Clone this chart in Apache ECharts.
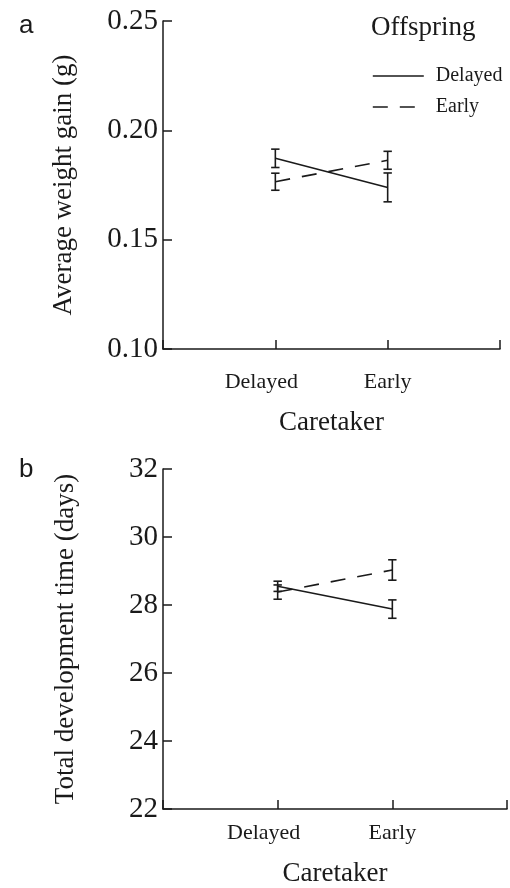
<!DOCTYPE html>
<html>
<head>
<meta charset="utf-8">
<script src="https://cdn.jsdelivr.net/npm/echarts@6/dist/echarts.min.js"></script>
<style>
html,body{margin:0;padding:0;background:#fff;}
#chart{width:510px;height:888px;}
</style>
</head>
<body>
<div id="chart"></div>
<script>
// ---- data ----
var caretakers = ['Delayed', 'Early'];
var caretakerPos = [1, 2];
var offspringNames = ['Delayed', 'Early'];

var weightDelayedMean = [0.1872, 0.1739];
var weightDelayedErr  = [0.0042, 0.0066];
var weightEarlyMean   = [0.1765, 0.1863];
var weightEarlyErr    = [0.0039, 0.0041];

var devDelayedMean = [28.55, 27.88];
var devDelayedErr  = [0.15, 0.27];
var devEarlyMean   = [28.38, 29.03];
var devEarlyErr    = [0.21, 0.30];

var weightTicks = [0.10, 0.15, 0.20, 0.25];
var devTicks = [22, 24, 26, 28, 30, 32];

var INK = '#1a1a1a';
var SERIF = '"Liberation Serif", "Times New Roman", serif';

function pts(means) { return means.map(function (m, i) { return [caretakerPos[i], m]; }); }
function errs(means, e) { return means.map(function (m, i) { return [caretakerPos[i], m - e[i], m + e[i]]; }); }

function errRender(params, api) {
  var x = api.value(0);
  var lo = api.coord([x, api.value(1)]);
  var hi = api.coord([x, api.value(2)]);
  var w = 4.2;
  var st = { stroke: INK, lineWidth: 1.6 };
  return {
    type: 'group',
    children: [
      { type: 'line', shape: { x1: lo[0], y1: lo[1], x2: hi[0], y2: hi[1] }, style: st },
      { type: 'line', shape: { x1: lo[0] - w, y1: lo[1], x2: lo[0] + w, y2: lo[1] }, style: st },
      { type: 'line', shape: { x1: hi[0] - w, y1: hi[1], x2: hi[0] + w, y2: hi[1] }, style: st }
    ]
  };
}

function xAxisFor(gi, labelMargin, nameGap) {
  return {
    type: 'value', gridIndex: gi, min: 0, max: 3, interval: 1,
    name: 'Caretaker', nameLocation: 'middle', nameGap: nameGap,
    nameTextStyle: { fontFamily: SERIF, fontSize: 27, color: INK },
    axisLine: { show: true, onZero: false, lineStyle: { color: INK, width: 1.5 } },
    axisTick: { show: true, inside: true, length: 9, lineStyle: { color: INK, width: 1.5 } },
    splitLine: { show: false },
    axisLabel: {
      margin: labelMargin, fontFamily: SERIF, fontSize: 22, color: INK,
      formatter: function (v) {
        var i = caretakerPos.indexOf(v);
        if (i < 0) return '';
        return i === 0 ? '{l|' + caretakers[i] + '}' : caretakers[i];
      },
      rich: { l: { fontFamily: SERIF, fontSize: 22, color: INK, padding: [0, 28, 0, 0] } }
    }
  };
}

function yAxisFor(gi, ticks, title, digits, nameGap) {
  return {
    type: 'value', gridIndex: gi,
    min: ticks[0], max: ticks[ticks.length - 1], interval: ticks[1] - ticks[0],
    name: title, nameLocation: 'middle', nameRotate: 90, nameGap: nameGap,
    nameTextStyle: { fontFamily: SERIF, fontSize: 27, color: INK },
    axisLine: { show: true, lineStyle: { color: INK, width: 1.5 } },
    axisTick: { show: true, inside: true, length: 9, lineStyle: { color: INK, width: 1.5 } },
    splitLine: { show: false },
    axisLabel: {
      margin: 5, fontFamily: SERIF, fontSize: 29, color: INK,
      formatter: function (v) { return v.toFixed(digits); }
    }
  };
}

function lineSeries(name, gi, data, dashed) {
  return {
    type: 'line', name: name, xAxisIndex: gi, yAxisIndex: gi,
    data: data, symbol: 'none', silent: true, animation: false,
    lineStyle: { color: INK, width: 1.6, type: dashed ? [15, 12] : 'solid' },
    itemStyle: { color: INK }
  };
}

function errSeries(gi, data) {
  return {
    type: 'custom', xAxisIndex: gi, yAxisIndex: gi, data: data,
    renderItem: errRender, silent: true, animation: false,
    encode: { x: 0, y: [1, 2] }
  };
}

var chart = echarts.init(document.getElementById('chart'), null, { renderer: 'canvas' });
chart.setOption({
  animation: false,
  backgroundColor: '#fff',
  grid: [
    { left: 163, top: 21, width: 337, height: 328 },
    { left: 163, top: 469, width: 344, height: 344 }
  ],
  title: [
    { text: 'a', left: 14, top: 8, textStyle: { fontFamily: '"Liberation Sans", Arial, sans-serif', fontSize: 26, fontWeight: 'normal', color: INK } },
    { text: 'b', left: 14, top: 452, textStyle: { fontFamily: '"Liberation Sans", Arial, sans-serif', fontSize: 26, fontWeight: 'normal', color: INK } },
    { text: 'Offspring', left: 366, top: 9, textStyle: { fontFamily: SERIF, fontSize: 27, fontWeight: 'normal', color: INK } }
  ],
  legend: {
    data: offspringNames, orient: 'vertical', left: 367, top: 61,
    itemWidth: 51, itemHeight: 14, itemGap: 11,
    lineStyle: { width: 1.6 },
    itemStyle: { opacity: 0, color: 'transparent', borderWidth: 0 },
    textStyle: { fontFamily: SERIF, fontSize: 20, color: INK, padding: [0, 0, 0, 7] },
    selectedMode: false
  },
  xAxis: [xAxisFor(0, 22, 60), xAxisFor(1, 13, 51)],
  yAxis: [
    yAxisFor(0, weightTicks, 'Average weight gain (g)', 2, 86),
    yAxisFor(1, devTicks, 'Total development time (days)', 0, 84)
  ],
  series: [
    lineSeries(offspringNames[0], 0, pts(weightDelayedMean), false),
    lineSeries(offspringNames[1], 0, pts(weightEarlyMean), true),
    errSeries(0, errs(weightDelayedMean, weightDelayedErr)),
    errSeries(0, errs(weightEarlyMean, weightEarlyErr)),
    lineSeries(offspringNames[0], 1, pts(devDelayedMean), false),
    lineSeries(offspringNames[1], 1, pts(devEarlyMean), true),
    errSeries(1, errs(devDelayedMean, devDelayedErr)),
    errSeries(1, errs(devEarlyMean, devEarlyErr))
  ]
});
</script>
</body>
</html>
